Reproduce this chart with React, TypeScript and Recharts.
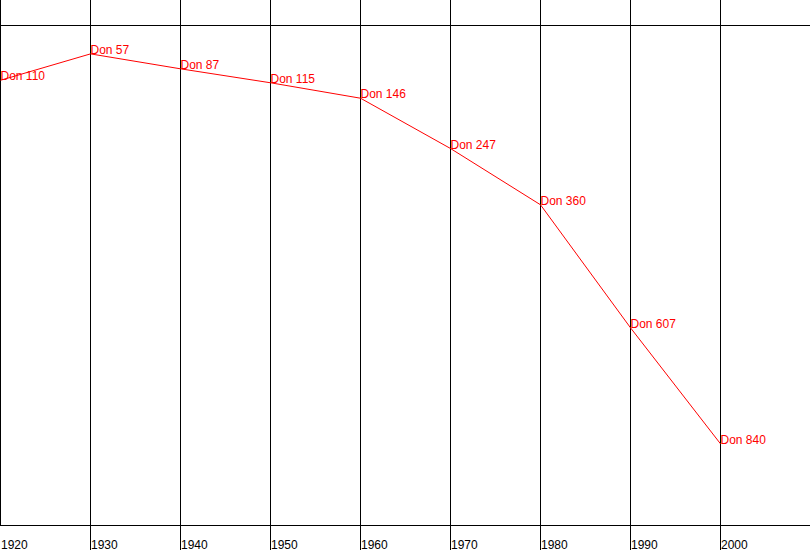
import { LabelList, Line, LineChart, ReferenceLine, XAxis, YAxis } from "recharts"

const years = [1920, 1930, 1940, 1950, 1960, 1970, 1980, 1990, 2000]
const donRank = [110, 57, 87, 115, 146, 247, 360, 607, 840]
const seriesName = "Don"

const data = years.map((year, i) => ({ year, rank: donRank[i] }))

const font = "'Liberation Sans', Arial, sans-serif"
// 9px per year, first decade line sits on pixel 0
const xDomain = [1920 - 0.5 / 9, 1920 + 809.5 / 9]

const BottomTick = (props: any) => {
  const { x, y, payload, index } = props
  return (
    <g>
      {index > 0 && <line x1={x} x2={x} y1={y - 24.5} y2={y} stroke="#000" />}
      <text x={x + 0.5} y={y - 1} fill="#000" fontSize={12} fontFamily={font} textAnchor="start">
        {payload.value}
      </text>
    </g>
  )
}

const EmptyTick = () => <g />

const PointLabel = (props: any) => {
  const { x, y, value } = props
  return (
    <text x={x} y={y} fill="#ff0000" fontSize={12} fontFamily={font} textAnchor="start">
      {`${seriesName} ${value}`}
    </text>
  )
}

export default function App() {
  return (
    <div style={{ position: "absolute", left: 0, top: 0, background: "#fff" }}>
      <LineChart width={810} height={550} data={data} margin={{ top: 0, right: 0, bottom: 0, left: 0 }}>
        <XAxis
          xAxisId="top"
          orientation="top"
          dataKey="year"
          type="number"
          domain={xDomain}
          ticks={years}
          interval={0}
          height={25.5}
          tickSize={25.5}
          tick={<EmptyTick />}
          stroke="#000"
          allowDataOverflow
        />
        <XAxis
          xAxisId="bottom"
          dataKey="year"
          type="number"
          domain={xDomain}
          ticks={years}
          interval={0}
          height={24.5}
          tickSize={24.5}
          tickMargin={0}
          tickLine={false}
          tick={<BottomTick />}
          stroke="#000"
          allowDataOverflow
        />
        <YAxis hide reversed type="number" domain={[0, 1004]} allowDataOverflow />
        {years.map((yr) => (
          <ReferenceLine key={yr} xAxisId="bottom" x={yr} stroke="#000" strokeWidth={1} />
        ))}
        <Line
          xAxisId="bottom"
          type="linear"
          dataKey="rank"
          stroke="#ff0000"
          strokeWidth={1}
          dot={false}
          isAnimationActive={false}
        >
          <LabelList dataKey="rank" content={<PointLabel />} />
        </Line>
      </LineChart>
    </div>
  )
}
